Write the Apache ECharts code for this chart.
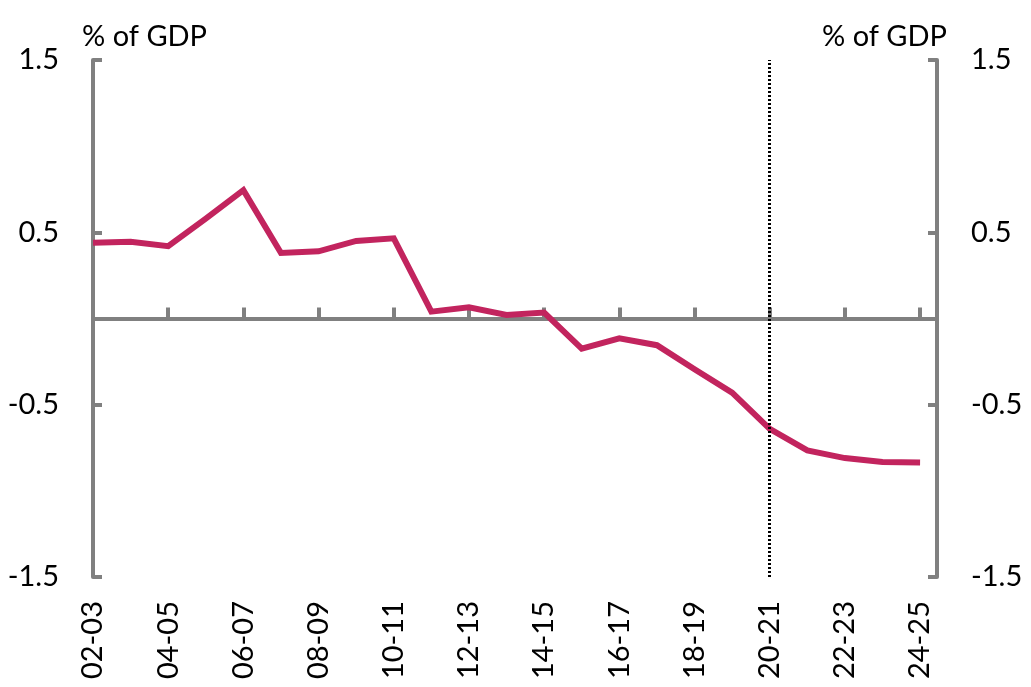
<!DOCTYPE html>
<html>
<head>
<meta charset="utf-8">
<script src="https://cdn.jsdelivr.net/npm/echarts@6/dist/echarts.min.js"></script>
<style>
html,body{margin:0;padding:0;background:#fff;}
#chart{width:1031px;height:687px;}
</style>
</head>
<body>
<div id="chart"></div>
<script>
const categories = ['02-03','03-04','04-05','05-06','06-07','07-08','08-09','09-10','10-11','11-12','12-13','13-14','14-15','15-16','16-17','17-18','18-19','19-20','20-21','21-22','22-23','23-24','24-25'];
const values = [0.44,0.445,0.42,0.58,0.745,0.38,0.39,0.45,0.465,0.04,0.065,0.02,0.035,-0.175,-0.115,-0.155,-0.295,-0.43,-0.64,-0.765,-0.81,-0.833,-0.835];
const yTicks = [-1.5,-0.5,0.5,1.5];
const markerCategory = '20-21';
const unitLabel = '% of GDP';

const FONT = 'Lato';
const FS = 29;
const GREY = '#808080';
const xMax = 22.45;
const seriesData = values.map((v,i)=>[i,v]);
const catLabel = v => (Number.isInteger(v) && categories[v] !== undefined) ? categories[v] : '';

const baseX = {
  type:'value', min:0, max:xMax, interval:2,
  splitLine:{show:false}
};

const chart = echarts.init(document.getElementById('chart'));
chart.setOption({
  animation:false,
  grid:{left:93, right:94, top:60, bottom:110, containLabel:false, outerBoundsMode:'none'},
  xAxis:[
    Object.assign({}, baseX, {
      axisLine:{onZero:true, lineStyle:{color:GREY, width:4}},
      axisTick:{show:true, inside:true, length:10, lineStyle:{color:GREY, width:4}},
      axisLabel:{show:false}
    }),
    Object.assign({}, baseX, {
      axisLine:{onZero:true, lineStyle:{color:GREY, width:4}},
      axisTick:{show:true, inside:false, length:11, lineStyle:{color:GREY, width:4}},
      axisLabel:{show:false}
    }),
    Object.assign({}, baseX, {
      position:'bottom',
      axisLine:{show:false, onZero:false},
      axisTick:{show:false},
      axisLabel:{show:true, rotate:90, margin:24, color:'#000', fontFamily:FONT, fontSize:FS, formatter:catLabel, showMaxLabel:false}
    })
  ],
  yAxis:[
    {
      type:'value', position:'left', min:yTicks[0], max:yTicks[yTicks.length-1], interval:1,
      axisLine:{show:true, onZero:false, lineStyle:{color:GREY, width:4}},
      axisTick:{show:true, inside:true, length:9, lineStyle:{color:GREY, width:4}},
      axisLabel:{color:'#000', fontFamily:FONT, fontSize:FS, margin:34},
      splitLine:{show:false}
    },
    {
      type:'value', position:'right', min:yTicks[0], max:yTicks[yTicks.length-1], interval:1,
      axisLine:{show:true, onZero:false, lineStyle:{color:GREY, width:4}},
      axisTick:{show:true, inside:true, length:9, lineStyle:{color:GREY, width:4}},
      axisLabel:{color:'#000', fontFamily:FONT, fontSize:FS, margin:34},
      splitLine:{show:false}
    }
  ],
  graphic:[
    {type:'text', left:82, top:22, style:{text:unitLabel, font:FS+'px '+FONT, fill:'#000'}},
    {type:'text', right:84, top:22, style:{text:unitLabel, font:FS+'px '+FONT, fill:'#000'}}
  ],
  series:[{
    type:'line', xAxisIndex:0, yAxisIndex:0,
    data:seriesData, showSymbol:false, symbol:'none',
    lineStyle:{color:'#C2245E', width:6, join:'miter'},
    z:3,
    markLine:{
      silent:true, symbol:['none','none'], label:{show:false},
      lineStyle:{color:'#000', type:[2,2], width:3},
      data:[{xAxis: categories.indexOf(markerCategory)}]
    }
  }]
});
</script>
</body>
</html>
